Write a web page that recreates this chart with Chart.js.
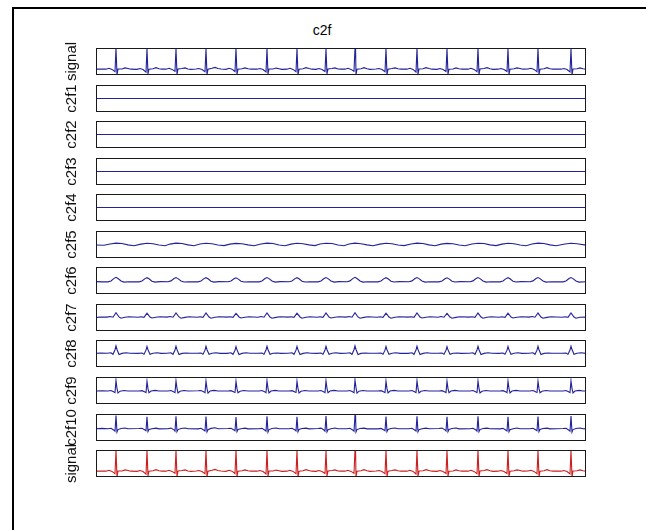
<!DOCTYPE html>
<html>
<head>
<meta charset="utf-8">
<script src="https://cdn.jsdelivr.net/npm/chart.js@4.4.1/dist/chart.umd.min.js"></script>
<style>
  body { margin: 0; background: #fff; width: 646px; height: 530px; overflow: hidden; position: relative; }
  #frame { position: absolute; left: 12px; top: 7px; width: 700px; height: 600px;
           border-left: 2px solid #000; border-top: 2px solid #000; }
  #title { position: absolute; left: 272px; top: 22px; width: 100px; text-align: center;
           font: 14px "Liberation Sans", Arial, sans-serif; color: #000; }
  .panel { position: absolute; }
</style>
</head>
<body>
<div id="frame"></div>
<div id="title">c2f</div>
<div id="panels"></div>
<script>
// sample index runs 0..490 across every panel
const xMax = 490;

const panelLabels = ['signal', 'c2f1', 'c2f2', 'c2f3', 'c2f4', 'c2f5', 'c2f6', 'c2f7', 'c2f8', 'c2f9', 'c2f10', 'signal'];

// [ymin, ymax] per panel
const yLimits = [
  [-0.25, 1], [-1, 1], [-1, 1], [-1, 1], [-1, 1], [-1, 1],
  [-1, 1], [-1, 1], [-1, 1], [-0.9, 1], [-0.8, 1], [-0.25, 1]
];

const signal = [
  [0, 0.02],
  [10, 0.02], [13, 0.06], [16, 0.01], [19, -0.1], [20, 1.0], [21, -0.25], [22, 0.03], [26, 0.03], [29, 0.08], [32, 0.05], [35, 0.02],
  [41, 0.01], [44, 0.05], [47, 0.0], [50, -0.12], [51, 0.97], [52, -0.2], [53, 0.02], [57, 0.04], [60, 0.09], [63, 0.04], [66, 0.02],
  [70, 0.02], [73, 0.06], [76, 0.01], [79, -0.08], [80, 0.98], [81, -0.23], [82, 0.03], [86, 0.05], [89, 0.08], [92, 0.03], [95, 0.01],
  [100, 0.03], [103, 0.05], [106, 0.0], [109, -0.1], [110, 0.96], [111, -0.24], [112, 0.02], [116, 0.06], [119, 0.1], [122, 0.05], [125, 0.03],
  [130, 0.01], [133, 0.06], [136, 0.02], [139, -0.09], [140, 0.99], [141, -0.22], [142, 0.02], [146, 0.04], [149, 0.08], [152, 0.04], [155, 0.02],
  [161, 0.02], [164, 0.05], [167, 0.0], [170, -0.11], [171, 0.97], [172, -0.21], [173, 0.03], [177, 0.03], [180, 0.07], [183, 0.04], [186, 0.01],
  [191, 0.02], [194, 0.06], [197, 0.01], [200, -0.1], [201, 0.98], [202, -0.25], [203, 0.02], [207, 0.04], [210, 0.09], [213, 0.05], [216, 0.02],
  [220, 0.01], [223, 0.05], [226, 0.0], [229, -0.09], [230, 0.96], [231, -0.2], [232, 0.03], [236, 0.05], [239, 0.08], [242, 0.03], [245, 0.02],
  [249, 0.02], [252, 0.06], [255, 0.01], [258, -0.08], [259, 1.0], [259.6, 0.9], [260, -0.23], [261, 0.02], [265, 0.04], [268, 0.09], [271, 0.04], [274, 0.01],
  [280, 0.03], [283, 0.05], [286, 0.0], [289, -0.1], [290, 0.97], [291, -0.24], [292, 0.02], [296, 0.05], [299, 0.08], [302, 0.04], [305, 0.02],
  [311, 0.02], [314, 0.06], [317, 0.01], [320, -0.11], [321, 0.98], [322, -0.22], [323, 0.03], [327, 0.04], [330, 0.09], [333, 0.05], [336, 0.02],
  [341, 0.01], [344, 0.05], [347, 0.0], [350, -0.09], [351, 0.96], [352, -0.21], [353, 0.02], [357, 0.03], [360, 0.08], [363, 0.04], [366, 0.02],
  [372, 0.02], [375, 0.06], [378, 0.01], [381, -0.1], [382, 0.99], [383, -0.24], [384, 0.03], [388, 0.05], [391, 0.09], [394, 0.04], [397, 0.01],
  [402, 0.02], [405, 0.05], [408, 0.0], [411, -0.09], [412, 0.97], [413, -0.22], [414, 0.02], [418, 0.04], [421, 0.08], [424, 0.05], [427, 0.02],
  [432, 0.03], [435, 0.06], [438, 0.01], [441, -0.1], [442, 0.98], [443, -0.23], [444, 0.02], [448, 0.04], [451, 0.09], [454, 0.04], [457, 0.02],
  [465, 0.02], [468, 0.05], [471, 0.0], [474, -0.11], [475, 0.97], [476, -0.25], [477, 0.03], [481, 0.04], [484, 0.08], [487, 0.04], [490, 0.02]
];

const c2f1 = [[0, 0], [490, 0]];
const c2f2 = [[0, 0], [490, 0]];
const c2f3 = [[0, 0], [490, 0]];
const c2f4 = [[0, 0], [490, 0]];

const c2f5 = [
  [0, -0.04],
  [8, -0.06], [14, 0.04], [20, 0.1], [26, 0.07], [32, -0.03], [38, -0.09],
  [45, 0.03], [51, 0.09], [57, 0.06], [63, -0.04], [69, -0.09],
  [74, 0.03], [80, 0.1], [86, 0.07], [92, -0.03], [98, -0.09],
  [104, 0.04], [110, 0.09], [116, 0.06], [122, -0.04], [128, -0.08],
  [134, 0.03], [140, 0.08], [146, 0.06], [152, -0.03], [158, -0.09],
  [165, 0.04], [171, 0.1], [177, 0.07], [183, -0.04], [189, -0.09],
  [195, 0.03], [201, 0.09], [207, 0.06], [213, -0.03], [219, -0.08],
  [224, 0.04], [230, 0.09], [236, 0.07], [242, -0.04], [248, -0.09],
  [253, 0.04], [259, 0.1], [265, 0.06], [271, -0.03], [277, -0.09],
  [284, 0.03], [290, 0.09], [296, 0.06], [302, -0.04], [308, -0.08],
  [315, 0.04], [321, 0.1], [327, 0.07], [333, -0.03], [339, -0.09],
  [345, 0.03], [351, 0.08], [357, 0.06], [363, -0.04], [369, -0.09],
  [376, 0.04], [382, 0.09], [388, 0.07], [394, -0.03], [400, -0.08],
  [406, 0.03], [412, 0.09], [418, 0.06], [424, -0.04], [430, -0.09],
  [436, 0.04], [442, 0.1], [448, 0.07], [454, -0.03], [460, -0.09],
  [469, 0.04], [475, 0.09], [481, 0.06], [490, -0.05]
];

const c2f6 = [
  [0, -0.08], [6, -0.1],
  [12, -0.1], [15, -0.03], [18, 0.16], [20, 0.24], [22, 0.15], [25, -0.04], [28, -0.12], [33, -0.09],
  [43, -0.1], [46, -0.04], [49, 0.14], [51, 0.21], [53, 0.13], [56, -0.05], [59, -0.12], [64, -0.08],
  [72, -0.09], [75, -0.03], [78, 0.15], [80, 0.22], [82, 0.14], [85, -0.04], [88, -0.11], [93, -0.09],
  [102, -0.1], [105, -0.04], [108, 0.14], [110, 0.21], [112, 0.13], [115, -0.05], [118, -0.12], [123, -0.08],
  [132, -0.09], [135, -0.04], [138, 0.13], [140, 0.2], [142, 0.12], [145, -0.05], [148, -0.11], [153, -0.09],
  [163, -0.1], [166, -0.03], [169, 0.15], [171, 0.22], [173, 0.14], [176, -0.04], [179, -0.12], [184, -0.08],
  [193, -0.09], [196, -0.04], [199, 0.14], [201, 0.21], [203, 0.13], [206, -0.05], [209, -0.11], [214, -0.09],
  [222, -0.1], [225, -0.03], [228, 0.15], [230, 0.22], [232, 0.14], [235, -0.04], [238, -0.12], [243, -0.08],
  [251, -0.09], [254, -0.03], [257, 0.16], [259, 0.24], [261, 0.15], [264, -0.04], [267, -0.12], [272, -0.09],
  [282, -0.1], [285, -0.04], [288, 0.14], [290, 0.21], [292, 0.13], [295, -0.05], [298, -0.11], [303, -0.08],
  [313, -0.09], [316, -0.03], [319, 0.15], [321, 0.22], [323, 0.14], [326, -0.04], [329, -0.12], [334, -0.09],
  [343, -0.1], [346, -0.04], [349, 0.13], [351, 0.2], [353, 0.12], [356, -0.05], [359, -0.11], [364, -0.08],
  [374, -0.09], [377, -0.03], [380, 0.15], [382, 0.22], [384, 0.14], [387, -0.04], [390, -0.12], [395, -0.09],
  [404, -0.1], [407, -0.04], [410, 0.14], [412, 0.21], [414, 0.13], [417, -0.05], [420, -0.11], [425, -0.08],
  [434, -0.09], [437, -0.03], [440, 0.15], [442, 0.22], [444, 0.14], [447, -0.04], [450, -0.12], [455, -0.09],
  [467, -0.1], [470, -0.03], [473, 0.15], [475, 0.22], [477, 0.14], [480, -0.04], [483, -0.12], [490, -0.09]
];

const c2f7 = [
  [0, 0.0], [4, 0.03],
  [11, 0.03], [14, 0.07], [17, 0.02], [20, 0.36], [23, 0.04], [25, -0.05], [29, 0.02], [33, 0.06],
  [42, 0.02], [45, 0.06], [48, 0.01], [51, 0.32], [54, 0.03], [56, -0.04], [60, 0.02], [64, 0.05],
  [71, 0.03], [74, 0.07], [77, 0.02], [80, 0.34], [83, 0.04], [85, -0.05], [89, 0.01], [93, 0.06],
  [101, 0.02], [104, 0.06], [107, 0.01], [110, 0.33], [113, 0.03], [115, -0.05], [119, 0.02], [123, 0.05],
  [131, 0.03], [134, 0.06], [137, 0.01], [140, 0.31], [143, 0.04], [145, -0.04], [149, 0.02], [153, 0.06],
  [162, 0.02], [165, 0.07], [168, 0.02], [171, 0.34], [174, 0.03], [176, -0.05], [180, 0.01], [184, 0.05],
  [192, 0.03], [195, 0.06], [198, 0.01], [201, 0.32], [204, 0.04], [206, -0.05], [210, 0.02], [214, 0.06],
  [221, 0.02], [224, 0.06], [227, 0.01], [230, 0.33], [233, 0.03], [235, -0.04], [239, 0.02], [243, 0.05],
  [250, 0.03], [253, 0.07], [256, 0.02], [259, 0.36], [262, 0.04], [264, -0.05], [268, 0.01], [272, 0.06],
  [281, 0.02], [284, 0.06], [287, 0.01], [290, 0.32], [293, 0.03], [295, -0.05], [299, 0.02], [303, 0.05],
  [312, 0.03], [315, 0.06], [318, 0.01], [321, 0.34], [324, 0.04], [326, -0.04], [330, 0.02], [334, 0.06],
  [342, 0.02], [345, 0.07], [348, 0.02], [351, 0.31], [354, 0.03], [356, -0.05], [360, 0.01], [364, 0.05],
  [373, 0.03], [376, 0.06], [379, 0.01], [382, 0.33], [385, 0.04], [387, -0.05], [391, 0.02], [395, 0.06],
  [403, 0.02], [406, 0.06], [409, 0.01], [412, 0.32], [415, 0.03], [417, -0.04], [421, 0.02], [425, 0.05],
  [433, 0.03], [436, 0.07], [439, 0.02], [442, 0.33], [445, 0.04], [447, -0.05], [451, 0.01], [455, 0.06],
  [466, 0.02], [469, 0.06], [472, 0.01], [475, 0.34], [478, 0.03], [480, -0.05], [484, 0.02], [490, 0.03]
];

const c2f8 = [
  [0, 0.02], [5, 0.03],
  [11, 0.02], [15, 0.05], [17, -0.06], [19, 0.28], [20, 0.56], [21, 0.3], [23, -0.07], [26, 0.01], [30, 0.05], [34, 0.02],
  [42, 0.01], [46, 0.04], [48, -0.05], [50, 0.25], [51, 0.52], [52, 0.27], [54, -0.06], [57, 0.02], [61, 0.05], [65, 0.01],
  [71, 0.02], [75, 0.05], [77, -0.06], [79, 0.26], [80, 0.54], [81, 0.29], [83, -0.07], [86, 0.01], [90, 0.04], [94, 0.02],
  [101, 0.02], [105, 0.04], [107, -0.05], [109, 0.25], [110, 0.53], [111, 0.28], [113, -0.06], [116, 0.02], [120, 0.05], [124, 0.01],
  [131, 0.01], [135, 0.05], [137, -0.06], [139, 0.24], [140, 0.51], [141, 0.27], [143, -0.07], [146, 0.01], [150, 0.05], [154, 0.02],
  [162, 0.02], [166, 0.04], [168, -0.05], [170, 0.26], [171, 0.54], [172, 0.28], [174, -0.06], [177, 0.02], [181, 0.04], [185, 0.01],
  [192, 0.02], [196, 0.05], [198, -0.06], [200, 0.25], [201, 0.52], [202, 0.27], [204, -0.07], [207, 0.01], [211, 0.05], [215, 0.02],
  [221, 0.01], [225, 0.04], [227, -0.05], [229, 0.26], [230, 0.53], [231, 0.28], [233, -0.06], [236, 0.02], [240, 0.05], [244, 0.01],
  [250, 0.02], [254, 0.05], [256, -0.06], [258, 0.28], [259, 0.56], [260, 0.3], [262, -0.07], [265, 0.01], [269, 0.04], [273, 0.02],
  [281, 0.02], [285, 0.04], [287, -0.05], [289, 0.25], [290, 0.52], [291, 0.27], [293, -0.06], [296, 0.02], [300, 0.05], [304, 0.01],
  [312, 0.01], [316, 0.05], [318, -0.06], [320, 0.26], [321, 0.54], [322, 0.29], [324, -0.07], [327, 0.01], [331, 0.05], [335, 0.02],
  [342, 0.02], [346, 0.04], [348, -0.05], [350, 0.24], [351, 0.51], [352, 0.27], [354, -0.06], [357, 0.02], [361, 0.04], [365, 0.01],
  [373, 0.02], [377, 0.05], [379, -0.06], [381, 0.26], [382, 0.53], [383, 0.28], [385, -0.07], [388, 0.01], [392, 0.05], [396, 0.02],
  [403, 0.01], [407, 0.04], [409, -0.05], [411, 0.25], [412, 0.52], [413, 0.27], [415, -0.06], [418, 0.02], [422, 0.05], [426, 0.01],
  [433, 0.02], [437, 0.05], [439, -0.06], [441, 0.25], [442, 0.53], [443, 0.28], [445, -0.07], [448, 0.01], [452, 0.04], [456, 0.02],
  [466, 0.02], [470, 0.04], [472, -0.05], [474, 0.26], [475, 0.54], [476, 0.29], [478, -0.06], [481, 0.02], [485, 0.05], [490, 0.01]
];

const c2f9 = [
  [0, 0.01], [6, 0.03],
  [12, 0.02], [15, 0.05], [18, -0.06], [19, -0.1], [20, 0.76], [21, 0.2], [22, -0.13], [24, 0.0], [28, 0.05], [32, 0.02],
  [43, 0.01], [46, 0.04], [49, -0.05], [50, -0.09], [51, 0.7], [52, 0.18], [53, -0.11], [55, 0.01], [59, 0.06], [63, 0.02],
  [72, 0.02], [75, 0.05], [78, -0.06], [79, -0.1], [80, 0.72], [81, 0.2], [82, -0.12], [84, 0.0], [88, 0.05], [92, 0.01],
  [102, 0.03], [105, 0.05], [108, -0.05], [109, -0.1], [110, 0.71], [111, 0.19], [112, -0.13], [114, 0.01], [118, 0.06], [122, 0.02],
  [132, 0.02], [135, 0.04], [138, -0.06], [139, -0.09], [140, 0.69], [141, 0.18], [142, -0.11], [144, 0.0], [148, 0.05], [152, 0.02],
  [163, 0.01], [166, 0.05], [169, -0.05], [170, -0.1], [171, 0.73], [172, 0.2], [173, -0.12], [175, 0.01], [179, 0.06], [183, 0.01],
  [193, 0.02], [196, 0.04], [199, -0.06], [200, -0.09], [201, 0.7], [202, 0.19], [203, -0.12], [205, 0.0], [209, 0.05], [213, 0.02],
  [222, 0.02], [225, 0.05], [228, -0.05], [229, -0.1], [230, 0.72], [231, 0.2], [232, -0.11], [234, 0.01], [238, 0.06], [242, 0.02],
  [251, 0.01], [254, 0.05], [257, -0.06], [258, -0.11], [259, 0.78], [260, 0.25], [261, -0.13], [263, 0.0], [267, 0.05], [271, 0.01],
  [282, 0.02], [285, 0.04], [288, -0.05], [289, -0.09], [290, 0.7], [291, 0.18], [292, -0.12], [294, 0.01], [298, 0.06], [302, 0.02],
  [313, 0.02], [316, 0.05], [319, -0.06], [320, -0.1], [321, 0.73], [322, 0.2], [323, -0.12], [325, 0.0], [329, 0.05], [333, 0.02],
  [343, 0.01], [346, 0.04], [349, -0.05], [350, -0.09], [351, 0.7], [352, 0.18], [353, -0.11], [355, 0.01], [359, 0.06], [363, 0.01],
  [374, 0.02], [377, 0.05], [380, -0.06], [381, -0.1], [382, 0.72], [383, 0.2], [384, -0.12], [386, 0.0], [390, 0.05], [394, 0.02],
  [404, 0.02], [407, 0.04], [410, -0.05], [411, -0.1], [412, 0.71], [413, 0.19], [414, -0.12], [416, 0.01], [420, 0.06], [424, 0.02],
  [434, 0.01], [437, 0.05], [440, -0.06], [441, -0.09], [442, 0.7], [443, 0.18], [444, -0.11], [446, 0.0], [450, 0.05], [454, 0.01],
  [467, 0.02], [470, 0.05], [473, -0.06], [474, -0.1], [475, 0.73], [476, 0.2], [477, -0.12], [479, 0.01], [483, 0.06], [487, 0.02], [490, 0.01]
];

const c2f10 = [
  [0, 0.02], [6, 0.04],
  [12, 0.02], [15, 0.05], [18, -0.08], [19, -0.15], [20, 0.9], [21, -0.2], [22, -0.04], [25, 0.03], [29, 0.07], [32, 0.02],
  [43, 0.03], [46, 0.05], [49, -0.07], [50, -0.12], [51, 0.82], [52, -0.16], [53, -0.03], [56, 0.02], [60, 0.06], [63, 0.01],
  [72, 0.02], [75, 0.06], [78, -0.06], [79, -0.14], [80, 0.85], [81, -0.18], [82, -0.04], [85, 0.03], [89, 0.07], [92, 0.02],
  [102, 0.01], [105, 0.05], [108, -0.08], [109, -0.13], [110, 0.83], [111, -0.19], [112, -0.05], [115, 0.04], [119, 0.08], [122, 0.02],
  [132, 0.03], [135, 0.05], [138, -0.07], [139, -0.12], [140, 0.8], [141, -0.17], [142, -0.03], [145, 0.02], [149, 0.06], [152, 0.01],
  [163, 0.02], [166, 0.04], [169, -0.08], [170, -0.15], [171, 0.84], [172, -0.2], [173, -0.04], [176, 0.03], [180, 0.07], [183, 0.02],
  [193, 0.02], [196, 0.05], [199, -0.06], [200, -0.13], [201, 0.82], [202, -0.18], [203, -0.03], [206, 0.03], [210, 0.06], [213, 0.01],
  [222, 0.03], [225, 0.06], [228, -0.07], [229, -0.14], [230, 0.86], [231, -0.19], [232, -0.05], [235, 0.02], [239, 0.07], [242, 0.02],
  [251, 0.02], [254, 0.05], [257, -0.08], [258, -0.15], [259, 0.92], [259.6, 0.8], [260, -0.2], [261, -0.04], [264, 0.03], [268, 0.06], [271, 0.01],
  [282, 0.01], [285, 0.04], [288, -0.07], [289, -0.12], [290, 0.83], [291, -0.17], [292, -0.03], [295, 0.03], [299, 0.07], [302, 0.02],
  [313, 0.02], [316, 0.05], [319, -0.08], [320, -0.14], [321, 0.85], [322, -0.19], [323, -0.04], [326, 0.02], [330, 0.06], [333, 0.02],
  [343, 0.03], [346, 0.06], [349, -0.06], [350, -0.13], [351, 0.81], [352, -0.17], [353, -0.03], [356, 0.03], [360, 0.07], [363, 0.01],
  [374, 0.02], [377, 0.05], [380, -0.07], [381, -0.14], [382, 0.84], [383, -0.18], [384, -0.04], [387, 0.03], [391, 0.06], [394, 0.02],
  [404, 0.01], [407, 0.04], [410, -0.08], [411, -0.13], [412, 0.82], [413, -0.18], [414, -0.05], [417, 0.02], [421, 0.07], [424, 0.02],
  [434, 0.02], [437, 0.05], [440, -0.07], [441, -0.12], [442, 0.83], [443, -0.17], [444, -0.03], [447, 0.03], [451, 0.06], [454, 0.01],
  [467, 0.03], [470, 0.05], [473, -0.08], [474, -0.15], [475, 0.86], [476, -0.2], [477, -0.04], [480, 0.03], [484, 0.07], [487, 0.02], [490, 0.01]
];

const panelSeries = [signal, c2f1, c2f2, c2f3, c2f4, c2f5, c2f6, c2f7, c2f8, c2f9, c2f10, signal];
const blue = '#22229a';
const red = '#cc1e1e';

// axes box drawn round every panel
const boxPlugin = {
  id: 'box',
  afterDraw(chart) {
    const { ctx, chartArea: a } = chart;
    ctx.save();
    ctx.strokeStyle = '#1a1a1a';
    ctx.lineWidth = 1;
    ctx.strokeRect(Math.round(a.left) + 0.5, Math.round(a.top) + 0.5,
                   Math.round(a.right - a.left) - 1, Math.round(a.bottom - a.top) - 1);
    ctx.restore();
  }
};

const canvasLeft = 63;
const plotLeft = 96;
const plotRight = 586;
const plotHeight = 27;
const pad = 14;
const holder = document.getElementById('panels');

panelSeries.forEach((data, i) => {
  const top = Math.round(48 + i * 36.55);
  const div = document.createElement('div');
  div.className = 'panel';
  div.style.left = canvasLeft + 'px';
  div.style.top = (top - pad) + 'px';
  const canvas = document.createElement('canvas');
  canvas.width = plotRight - canvasLeft;
  canvas.height = plotHeight + 2 * pad;
  div.appendChild(canvas);
  holder.appendChild(div);

  new Chart(canvas.getContext('2d'), {
    type: 'line',
    data: {
      datasets: [{
        data: data,
        borderColor: i === panelSeries.length - 1 ? red : blue,
        borderWidth: 1.1,
        pointRadius: 0,
        tension: 0,
        fill: false
      }]
    },
    options: {
      responsive: false,
      animation: false,
      events: [],
      layout: { padding: { top: pad, bottom: pad, left: 0, right: 0 } },
      plugins: { legend: { display: false }, tooltip: { enabled: false } },
      scales: {
        x: { type: 'linear', min: 0, max: xMax, display: false },
        y: {
          min: yLimits[i][0],
          max: yLimits[i][1],
          ticks: { display: false },
          grid: { display: false },
          border: { display: false },
          title: {
            display: true,
            text: panelLabels[i],
            color: '#111',
            padding: 0,
            font: { family: '"Liberation Sans", Arial, sans-serif', size: 15 }
          },
          afterFit(scale) { scale.width = plotLeft - canvasLeft; }
        }
      }
    },
    plugins: [boxPlugin]
  });
});
</script>
</body>
</html>
